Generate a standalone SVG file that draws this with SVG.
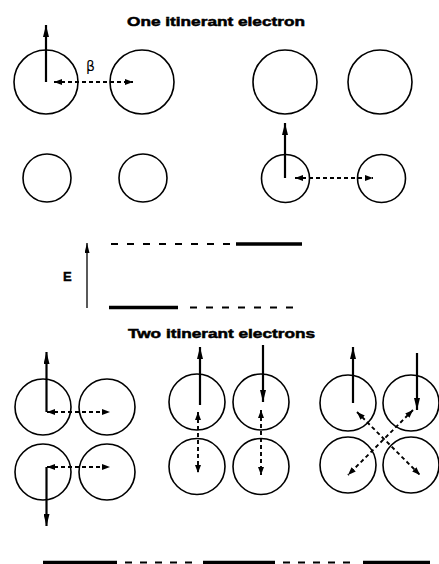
<svg xmlns="http://www.w3.org/2000/svg" width="439" height="564" viewBox="0 0 439 564">
<style>
.atom{fill:none;stroke:#000;stroke-width:1.6}
.spin{fill:none;stroke:#000;stroke-width:2.2;marker-end:url(#head)}
.hop{fill:none;stroke:#000;stroke-width:1.9;stroke-dasharray:4 3;marker-start:url(#sm);marker-end:url(#sm)}
.title{font-family:"Liberation Sans",Arial,sans-serif;font-weight:bold;font-size:12.5px;fill:#000;stroke:#000;stroke-width:0.5}
.lvl{stroke:#000;stroke-width:3.5}
.lvld{stroke:#000;stroke-width:2;stroke-dasharray:7 9}
</style>
<defs>
<marker id="head" viewBox="0 0 12 6" refX="12" refY="3" markerWidth="12" markerHeight="6" markerUnits="userSpaceOnUse" orient="auto"><path d="M0,0 L12,3 L0,6 z" fill="#000"/></marker>
<marker id="sm" viewBox="0 0 8 6" refX="8" refY="3" markerWidth="8" markerHeight="6" markerUnits="userSpaceOnUse" orient="auto-start-reverse"><path d="M0,0 L8,3 L0,6 z" fill="#000"/></marker>
<marker id="thin" viewBox="0 0 10 5" refX="10" refY="2.5" markerWidth="10" markerHeight="5" markerUnits="userSpaceOnUse" orient="auto"><path d="M0,0 L10,2.5 L0,5 z" fill="#000"/></marker>
</defs>
<rect width="439" height="564" fill="#fff"/>
<text class="title" x="127" y="25.5" textLength="178" lengthAdjust="spacingAndGlyphs">One itinerant electron</text>
<text class="title" x="128" y="337.5" textLength="187" lengthAdjust="spacingAndGlyphs">Two itinerant electrons</text>
<g id="p1-a"><circle class="atom" cx="46" cy="82" r="32"/></g>
<g id="p1-b"><circle class="atom" cx="142" cy="82" r="32"/></g>
<g id="p1-c"><circle class="atom" cx="47" cy="178" r="24"/></g>
<g id="p1-d"><circle class="atom" cx="143" cy="178" r="24"/></g>
<g id="p2-a"><circle class="atom" cx="285" cy="82" r="32"/></g>
<g id="p2-b"><circle class="atom" cx="380" cy="82" r="32"/></g>
<g id="p2-c"><circle class="atom" cx="285.5" cy="178.5" r="24"/></g>
<g id="p2-d"><circle class="atom" cx="381.5" cy="178.5" r="24"/></g>
<g id="beta"><text x="86" y="71" font-family="'DejaVu Sans',sans-serif" font-size="14">β</text></g>
<g id="energy-axis"><text x="63" y="281" font-family="'Liberation Sans',Arial,sans-serif" font-weight="bold" font-size="13" stroke="#000" stroke-width="0.4">E</text></g>
<g id="levels-1">
<line class="lvld" x1="111" y1="244" x2="232" y2="244"/>
<line class="lvl" x1="236" y1="244" x2="302" y2="244"/>
<line class="lvl" x1="109" y1="307.5" x2="178" y2="307.5"/>
<line class="lvld" x1="190" y1="307.5" x2="294" y2="307.5"/>
</g>
<g id="q1-a"><circle class="atom" cx="43" cy="407" r="28"/></g>
<g id="q1-b"><circle class="atom" cx="107" cy="407" r="28"/></g>
<g id="q1-c"><circle class="atom" cx="43" cy="472" r="28"/></g>
<g id="q1-d"><circle class="atom" cx="107" cy="472" r="28"/></g>
<g id="q2-a"><circle class="atom" cx="197" cy="402" r="28"/></g>
<g id="q2-b"><circle class="atom" cx="261" cy="402" r="28"/></g>
<g id="q2-c"><circle class="atom" cx="197" cy="466.5" r="28"/></g>
<g id="q2-d"><circle class="atom" cx="261" cy="466.5" r="28"/></g>
<g id="q3-a"><circle class="atom" cx="348" cy="403" r="28"/></g>
<g id="q3-b"><circle class="atom" cx="411" cy="403" r="28"/></g>
<g id="q3-c"><circle class="atom" cx="348" cy="465" r="28"/></g>
<g id="q3-d"><circle class="atom" cx="411" cy="465" r="28"/></g>
<g id="levels-2">
<line class="lvl" x1="43" y1="562.5" x2="117" y2="562.5"/>
<line class="lvld" x1="125" y1="562.5" x2="200" y2="562.5" style="stroke-dasharray:7 8"/>
<line class="lvl" x1="203" y1="562.5" x2="275" y2="562.5"/>
<line class="lvld" x1="283" y1="562.5" x2="358" y2="562.5" style="stroke-dasharray:7 8"/>
<line class="lvl" x1="363" y1="562.5" x2="430" y2="562.5"/>
</g>
<g id="connectors">
<line class="spin" x1="46" y1="82" x2="46" y2="25"/>
<line class="hop" x1="54" y1="82" x2="133" y2="82"/>
<line class="spin" x1="285" y1="178" x2="285" y2="123"/>
<line class="hop" x1="295" y1="178" x2="373" y2="178"/>
<line x1="87" y1="308" x2="87" y2="243" stroke="#000" stroke-width="1.3" marker-end="url(#thin)"/>
<line class="spin" x1="46.5" y1="412" x2="46.5" y2="352"/>
<line class="hop" x1="47" y1="412" x2="110" y2="412"/>
<line class="hop" x1="47" y1="467" x2="110" y2="467"/>
<line class="spin" x1="46.5" y1="467" x2="46.5" y2="526"/>
<line class="spin" x1="200" y1="405" x2="200" y2="347"/>
<line class="hop" x1="198" y1="412" x2="198" y2="473"/>
<line class="spin" x1="263" y1="345" x2="263" y2="402"/>
<line class="hop" x1="261" y1="410" x2="261" y2="475"/>
<line class="spin" x1="353" y1="403" x2="353" y2="347"/>
<line class="spin" x1="417" y1="353" x2="417" y2="410"/>
<line class="hop" x1="357" y1="412" x2="420" y2="475"/>
<line class="hop" x1="413" y1="410" x2="348" y2="475"/>
</g>
</svg>
